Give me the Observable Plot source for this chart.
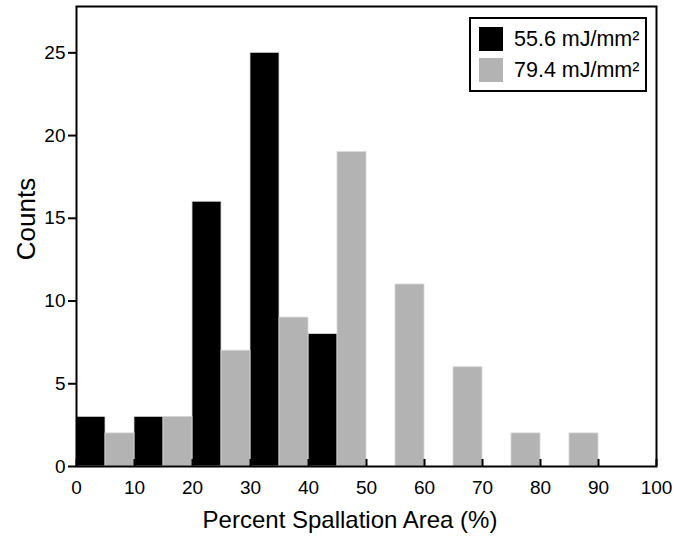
<!DOCTYPE html>
<html><head><meta charset="utf-8">
<script src="https://cdn.jsdelivr.net/npm/d3@7"></script>
<script src="https://cdn.jsdelivr.net/npm/@observablehq/plot@0.6"></script>
<style>
body{margin:0;background:#fff;font-family:"Liberation Sans",Arial,sans-serif;}
#wrap{position:relative;width:673px;height:537px;overflow:hidden;}
#legend{position:absolute;left:469px;top:17px;width:178px;height:75px;border:2px solid #000;box-sizing:border-box;background:#fff;}
.item{position:absolute;left:8px;height:24px;display:flex;align-items:center;}
.sw{width:24px;height:24px;margin-right:11px;box-sizing:border-box;}
.lt{font-size:21.5px;color:#000;white-space:nowrap;}
.title{position:absolute;color:#000;white-space:nowrap;line-height:1;}
</style></head><body><div id="wrap"></div>
<script>
const seriesNames = ["55.6 mJ/mm²", "79.4 mJ/mm²"];
const seriesColors = ["#000000", "#b3b3b3"];
const binWidth = 5;
const lowStarts = [0, 10, 20, 30, 40];
const lowCounts = [3, 3, 16, 25, 8];
const highStarts = [5, 15, 25, 35, 45, 55, 65, 75, 85];
const highCounts = [2, 3, 7, 9, 19, 11, 6, 2, 2];
const xTicks = [0, 10, 20, 30, 40, 50, 60, 70, 80, 90, 100];
const yTicks = [0, 5, 10, 15, 20, 25];
const xTitle = "Percent Spallation Area (%)";
const yTitle = "Counts";

const low = lowStarts.map((s, i) => ({x1: s, x2: s + binWidth, y: lowCounts[i]}));
const high = highStarts.map((s, i) => ({x1: s, x2: s + binWidth, y: highCounts[i]}));

const chart = Plot.plot({
  width: 673, height: 537,
  marginLeft: 76, marginRight: 17, marginTop: 6, marginBottom: 71,
  style: {fontFamily: "Liberation Sans, Arial, sans-serif", fontSize: "19px", color: "#000", background: "#fff"},
  x: {domain: [0, 100]},
  y: {domain: [0, 27.8]},
  marks: [
    Plot.rectY(low, {x1: "x1", x2: "x2", y: "y", fill: seriesColors[0], stroke: "#d8d8d8", strokeWidth: 0.8, inset: 0}),
    Plot.rectY(high, {x1: "x1", x2: "x2", y: "y", fill: seriesColors[1], stroke: "#d8d8d8", strokeWidth: 0.8, inset: 0}),
    Plot.axisX({ticks: xTicks, tickSize: -7, tickFormat: () => "", label: null, strokeWidth: 2}),
    Plot.axisX({ticks: xTicks, tickSize: 0, tickPadding: 14, fontSize: 19, label: null}),
    Plot.axisY({ticks: yTicks, tickSize: 8, tickPadding: 3, fontSize: 19, label: null, strokeWidth: 2}),
    Plot.frame({stroke: "#000", strokeWidth: 2})
  ]
});
const wrap = document.getElementById("wrap");
wrap.appendChild(chart);

const legend = document.createElement("div");
legend.id = "legend";
seriesNames.forEach((n, i) => {
  const it = document.createElement("div");
  it.className = "item";
  it.style.top = (8 + i * 31) + "px";
  const sw = document.createElement("div");
  sw.className = "sw";
  sw.style.background = seriesColors[i];
  const t = document.createElement("span");
  t.className = "lt";
  t.textContent = n;
  it.appendChild(sw); it.appendChild(t);
  legend.appendChild(it);
});
wrap.appendChild(legend);

const xt = document.createElement("div");
xt.className = "title";
xt.textContent = xTitle;
xt.style.fontSize = "24px";
xt.style.left = "350px"; xt.style.top = "508px"; xt.style.transform = "translateX(-50%)";
wrap.appendChild(xt);

const yt = document.createElement("div");
yt.className = "title";
yt.textContent = yTitle;
yt.style.fontSize = "26px";
yt.style.left = "26px"; yt.style.top = "219px"; yt.style.transform = "translate(-50%,-50%) rotate(-90deg)";
wrap.appendChild(yt);
</script></body></html>
